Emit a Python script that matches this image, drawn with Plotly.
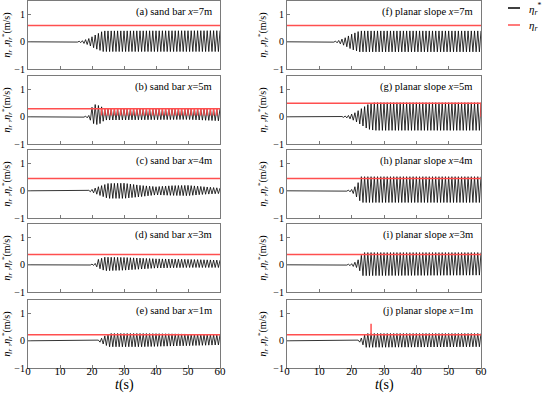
import numpy as np
import plotly.graph_objects as go

# ---------------- data ----------------
panel_labels = [
    "(a) sand bar <i>x</i>=7m", "(b) sand bar <i>x</i>=5m", "(c) sand bar <i>x</i>=4m",
    "(d) sand bar <i>x</i>=3m", "(e) sand bar <i>x</i>=1m",
    "(f) planar slope <i>x</i>=7m", "(g) planar slope <i>x</i>=5m", "(h) planar slope <i>x</i>=4m",
    "(i) planar slope <i>x</i>=3m", "(j) planar slope <i>x</i>=1m",
]

# constant red threshold eta_r for each panel
eta_r_level = [0.6, 0.3, 0.45, 0.38, 0.22, 0.6, 0.5, 0.45, 0.38, 0.22]

# envelope of the black oscillating record eta_r* (knot times, upper, lower)
env_t_a = [0, 15, 17, 19, 21, 23.5, 60]
env_up_a = [0, 0, 0.04, 0.12, 0.25, 0.40, 0.41]
env_lo_a = [0, 0, -0.04, -0.12, -0.25, -0.36, -0.36]

env_t_b = [0, 17, 19, 20, 21, 22.5, 24, 50, 60]
env_up_b = [0, 0, 0.05, 0.35, 0.45, 0.40, 0.30, 0.30, 0.30]
env_lo_b = [0, 0, -0.05, -0.20, -0.30, -0.25, -0.12, -0.10, -0.15]

env_t_c = [0, 18.5, 20, 22, 25, 30, 35, 40, 45, 50, 55, 60]
env_up_c = [0, 0, 0.05, 0.15, 0.27, 0.28, 0.20, 0.15, 0.19, 0.20, 0.15, 0.10]
env_lo_c = [0, 0, -0.05, -0.15, -0.28, -0.28, -0.22, -0.15, -0.17, -0.18, -0.13, -0.10]

env_t_d = [0, 19, 21, 22, 24, 30, 40, 50, 60]
env_up_d = [0, 0, 0.05, 0.20, 0.28, 0.27, 0.22, 0.20, 0.17]
env_lo_d = [0, 0, -0.03, -0.12, -0.22, -0.20, -0.12, -0.10, -0.10]

env_t_e = [0, 21.5, 22.5, 24, 25.5, 35, 50, 60]
env_up_e = [0, 0, 0.05, 0.18, 0.27, 0.27, 0.25, 0.22]
env_lo_e = [0, 0, -0.05, -0.15, -0.22, -0.22, -0.18, -0.15]

env_t_f = [0, 14, 16, 18, 20, 22.5, 60]
env_up_f = [0, 0, 0.05, 0.15, 0.28, 0.40, 0.40]
env_lo_f = [0, 0, -0.05, -0.15, -0.28, -0.37, -0.37]

env_t_g = [0, 16.5, 19, 21, 23, 25, 27, 60]
env_up_g = [0, 0, 0.05, 0.15, 0.30, 0.45, 0.52, 0.52]
env_lo_g = [0, 0, -0.05, -0.15, -0.30, -0.45, -0.50, -0.50]

env_t_h = [0, 18, 20, 21, 22, 23, 60]
env_up_h = [0, 0, 0.05, 0.15, 0.30, 0.52, 0.52]
env_lo_h = [0, 0, -0.05, -0.15, -0.30, -0.43, -0.43]

env_t_i = [0, 18, 20, 21.5, 22.5, 23.5, 60]
env_up_i = [0, 0, 0.04, 0.12, 0.25, 0.45, 0.45]
env_lo_i = [0, 0, -0.04, -0.10, -0.22, -0.40, -0.38]

env_t_j = [0, 21.5, 22.5, 23.5, 24.5, 60]
env_up_j = [0, 0, 0.05, 0.15, 0.27, 0.27]
env_lo_j = [0, 0, -0.05, -0.15, -0.24, -0.22]

wave_period = 1.0  # s

# extra red features
red_bars_b_start = 23.0   # red spikes in (b) from eta_r down to this value
red_bars_b_low = 0.05
red_drop_g_t = 60.0       # red vertical drop at end of (g)
red_drop_g_low = 0.0
red_spike_j_t = 26.0      # red spike in (j)
red_spike_j_top = 0.63

x_ticks = [0, 10, 20, 30, 40, 50, 60]
y_ticks = [-1, 0, 1]

envs = [
    (env_t_a, env_up_a, env_lo_a), (env_t_b, env_up_b, env_lo_b), (env_t_c, env_up_c, env_lo_c),
    (env_t_d, env_up_d, env_lo_d), (env_t_e, env_up_e, env_lo_e), (env_t_f, env_up_f, env_lo_f),
    (env_t_g, env_up_g, env_lo_g), (env_t_h, env_up_h, env_lo_h), (env_t_i, env_up_i, env_lo_i),
    (env_t_j, env_up_j, env_lo_j),
]

# ---------------- figure ----------------
W, H = 550, 394
FONT = "Liberation Serif, Times New Roman, Times, serif"
BLACK = "#000000"
RED = "#ff4f4f"
FRAME = "#7a7a7a"

tops_px = [1, 76, 150, 224, 300]
ph = 68
col_x = [(28, 220), (287, 481)]

fig = go.Figure()
layout = {}
annotations = []

for k in range(10):
    col, row = divmod(k, 5)
    idx = k + 1
    xa = "x" if idx == 1 else f"x{idx}"
    ya = "y" if idx == 1 else f"y{idx}"
    xkey = "xaxis" if idx == 1 else f"xaxis{idx}"
    ykey = "yaxis" if idx == 1 else f"yaxis{idx}"

    et, eu, el = envs[k]
    half = wave_period / 2
    t = np.arange(0, 60 + 1e-9, half)
    up = np.interp(t, et, eu)
    lo = np.interp(t, et, el)
    y = np.where(np.arange(len(t)) % 2 == 0, up, lo)

    fig.add_trace(go.Scatter(x=t, y=y, mode="lines", line=dict(color=BLACK, width=0.8),
                             xaxis=xa, yaxis=ya, showlegend=False, hoverinfo="skip"))

    # red eta_r
    lvl = eta_r_level[k]
    rx = [0, 60]
    ry = [lvl, lvl]
    if k == 1:
        tb = np.arange(red_bars_b_start, 60, wave_period)
        for tt in tb:
            rx += [None, float(tt), float(tt)]
            ry += [None, lvl, red_bars_b_low]
    if k == 6:
        rx += [None, red_drop_g_t, red_drop_g_t]
        ry += [None, lvl, red_drop_g_low]
    if k == 9:
        rx += [None, red_spike_j_t, red_spike_j_t]
        ry += [None, lvl, red_spike_j_top]
    fig.add_trace(go.Scatter(x=rx, y=ry, mode="lines", line=dict(color=RED, width=1.5),
                             xaxis=xa, yaxis=ya, showlegend=False, hoverinfo="skip",
                             connectgaps=False))

    x0, x1 = col_x[col]
    top = tops_px[row]
    layout[xkey] = dict(
        domain=[x0 / W, x1 / W], range=[0, 60], anchor=ya, automargin=False,
        tickvals=x_ticks, ticks="inside", ticklen=3, tickcolor=FRAME,
        showticklabels=(row == 4), showline=True, linecolor=FRAME, linewidth=1,
        mirror=True, showgrid=False, zeroline=False, ticklabelstandoff=-7,
        tickfont=dict(family=FONT, size=11, color="#000"),
    )
    layout[ykey] = dict(
        domain=[1 - (top + ph) / H, 1 - top / H], range=[-1, 1.5], anchor=xa, automargin=False,
        tickvals=y_ticks, ticks="inside", ticklen=3, tickcolor=FRAME,
        showline=True, linecolor=FRAME, linewidth=1, mirror=True,
        showgrid=False, zeroline=False,
        tickfont=dict(family=FONT, size=10, color="#000"),
        title=dict(text="<i>η</i><sub><i>r</i></sub> ,<i>η</i><sub><i>r</i></sub><sup>*</sup>(m/s)",
                   font=dict(family=FONT, size=10, color="#000"), standoff=4),
    )
    annotations.append(dict(
        text=panel_labels[k], xref=f"{xa} domain", yref=f"{ya} domain",
        x=0.97, y=0.96, xanchor="right", yanchor="top", showarrow=False,
        font=dict(family=FONT, size=10.5, color="#000"),
    ))

# x-axis titles
for (x0, x1) in col_x:
    annotations.append(dict(
        text="<i>t</i>(s)", xref="paper", yref="paper", x=(x0 + x1) / 2 / W, y=1 - 385 / H,
        xanchor="center", yanchor="middle", showarrow=False,
        font=dict(family=FONT, size=14, color="#000"),
    ))

# manual legend
shapes = [
    dict(type="line", xref="paper", yref="paper", x0=508 / W, x1=520 / W,
         y0=1 - 8 / H, y1=1 - 8 / H, line=dict(color=BLACK, width=1.5)),
    dict(type="line", xref="paper", yref="paper", x0=508 / W, x1=520 / W,
         y0=1 - 25 / H, y1=1 - 25 / H, line=dict(color=RED, width=1.5)),
]
annotations.append(dict(text="<i>η</i><sub><i>r</i></sub><sup>*</sup>", xref="paper", yref="paper",
                        x=527 / W, y=1 - 9 / H, xanchor="left", yanchor="middle", showarrow=False,
                        font=dict(family=FONT, size=11, color="#000")))
annotations.append(dict(text="<i>η</i><sub><i>r</i></sub>", xref="paper", yref="paper",
                        x=527 / W, y=1 - 26 / H, xanchor="left", yanchor="middle", showarrow=False,
                        font=dict(family=FONT, size=11, color="#000")))

fig.update_layout(
    width=W, height=H, margin=dict(l=0, r=0, t=0, b=0, autoexpand=False),
    paper_bgcolor="white", plot_bgcolor="white",
    annotations=annotations, shapes=shapes, showlegend=False,
    **layout,
)

fig.write_html(
    "out.html",
    config={"displayModeBar": False},
    post_script="document.body.style.margin='0';document.body.style.padding='0';"
                "document.documentElement.style.overflow='hidden';",
)
